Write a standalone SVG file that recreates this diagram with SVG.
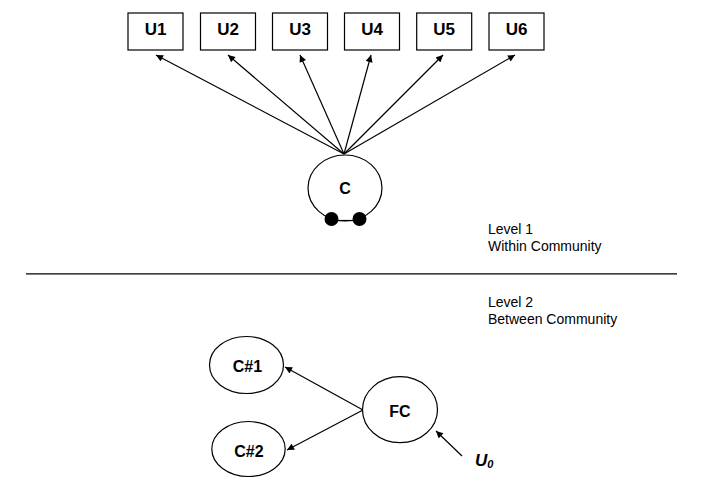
<svg xmlns="http://www.w3.org/2000/svg" width="712" height="504" viewBox="0 0 712 504">
<style>
.box{fill:#fff;stroke:#000;stroke-width:1.2}
.ell{fill:#fff;stroke:#000;stroke-width:1.2}
.lbl{font-family:"Liberation Sans",Arial,sans-serif;font-weight:bold;font-size:17px;text-anchor:middle;fill:#000}
.txt{font-family:"Liberation Sans",Arial,sans-serif;font-size:14px;fill:#000}
.con{stroke:#000;stroke-width:1.2;fill:none;marker-end:url(#ah)}
</style>
<defs>
<marker id="ah" viewBox="0 0 10 10" refX="10" refY="5" markerWidth="8" markerHeight="7" markerUnits="userSpaceOnUse" orient="auto">
<path d="M0,0 L10,5 L0,10 z" fill="#000"/>
</marker>
</defs>
<rect width="712" height="504" fill="#fff"/>
<g id="connectors">
<line class="con" x1="344" y1="154" x2="156" y2="55"/>
<line class="con" x1="344" y1="154" x2="228" y2="55"/>
<line class="con" x1="344" y1="154" x2="300" y2="55"/>
<line class="con" x1="344" y1="154" x2="371" y2="55"/>
<line class="con" x1="344" y1="154" x2="443" y2="55"/>
<line class="con" x1="344" y1="154" x2="515" y2="55"/>
<line class="con" x1="363" y1="410" x2="285" y2="367"/>
<line class="con" x1="363" y1="410" x2="287" y2="450"/>
<line class="con" x1="462" y1="456" x2="436" y2="431"/>
</g>
<g id="U1"><rect class="box" x="128" y="13" width="55" height="37"/><text class="lbl" x="155.5" y="35">U1</text></g>
<g id="U2"><rect class="box" x="200.5" y="13" width="55" height="37"/><text class="lbl" x="228" y="35">U2</text></g>
<g id="U3"><rect class="box" x="272.5" y="13" width="55" height="37"/><text class="lbl" x="300" y="35">U3</text></g>
<g id="U4"><rect class="box" x="344.5" y="13" width="55" height="37"/><text class="lbl" x="372" y="35">U4</text></g>
<g id="U5"><rect class="box" x="416.7" y="13" width="55" height="37"/><text class="lbl" x="444.2" y="35">U5</text></g>
<g id="U6"><rect class="box" x="489" y="13" width="55" height="37"/><text class="lbl" x="516.5" y="35">U6</text></g>
<g id="C">
<ellipse class="ell" cx="345" cy="188" rx="37" ry="33"/>
<line x1="331.5" y1="220.5" x2="359.5" y2="220.5" stroke="#000" stroke-width="1.2"/>
<circle cx="331.5" cy="219" r="7" fill="#000"/>
<circle cx="359.5" cy="219" r="7" fill="#000"/>
<text class="lbl" x="345" y="193.5" style="font-size:16px">C</text>
</g>
<g id="divider"><line x1="26" y1="273.8" x2="677" y2="273.8" stroke="#000" stroke-width="1.2"/></g>
<g id="level1"><text class="txt" x="488" y="234">Level 1</text><text class="txt" x="488" y="250.5">Within Community</text></g>
<g id="level2"><text class="txt" x="488" y="307">Level 2</text><text class="txt" x="488" y="323.5">Between Community</text></g>
<g id="C1"><ellipse class="ell" cx="246.5" cy="365" rx="37" ry="28.5"/><text class="lbl" x="247.5" y="371.5" style="font-size:16px">C#1</text></g>
<g id="C2"><ellipse class="ell" cx="248.5" cy="449" rx="36.7" ry="27.5"/><text class="lbl" x="249" y="457" style="font-size:16px">C#2</text></g>
<g id="FC"><ellipse class="ell" cx="400" cy="409.7" rx="37.5" ry="33"/><text class="lbl" x="400" y="416.5" style="font-size:16px">FC</text></g>
<g id="U0"><text class="lbl" x="475" y="465.5" style="text-anchor:start;font-style:italic">U<tspan font-size="11" dy="2">0</tspan></text></g>
</svg>
